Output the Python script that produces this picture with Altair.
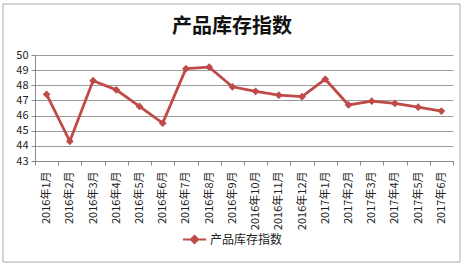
import altair as alt
import pandas as pd

months = ["2016年1月", "2016年2月", "2016年3月", "2016年4月", "2016年5月", "2016年6月",
          "2016年7月", "2016年8月", "2016年9月", "2016年10月", "2016年11月", "2016年12月",
          "2017年1月", "2017年2月", "2017年3月", "2017年4月", "2017年5月", "2017年6月"]
values = [47.4, 44.3, 48.3, 47.7, 46.6, 45.5, 49.1, 49.2, 47.9, 47.6, 47.35, 47.25,
          48.4, 46.7, 46.95, 46.8, 46.55, 46.3]
series_name = "产品库存指数"
y_ticks = [43, 44, 45, 46, 47, 48, 49, 50]

df = pd.DataFrame({"month": months, "value": values, "series": [series_name] * len(months)})

FONT = "Noto Sans CJK SC"
RED = "#BE4B48"

x_enc = alt.X("month:N", sort=months, bandPosition=0.5,
              scale=alt.Scale(type="band", paddingInner=0, paddingOuter=0),
              axis=alt.Axis(title=None, labelAngle=-90, labelFontSize=11, labelFont=FONT,
                            labelColor="#222", tickBand="extent", grid=False,
                            domainColor="#888", tickColor="#888", tickSize=4, labelPadding=6))
y_enc = alt.Y("value:Q",
              scale=alt.Scale(domain=[43, 50], nice=False, zero=False),
              axis=alt.Axis(title=None, values=y_ticks, labelFontSize=11, labelFont=FONT,
                            labelColor="#222", gridColor="#9a9a9a", domainColor="#888",
                            tickColor="#888", tickSize=4, labelPadding=3))
color_enc = alt.Color("series:N", scale=alt.Scale(range=[RED]),
                      legend=alt.Legend(title=None, orient="none", legendX=147, legendY=172,
                                        symbolType="M-1,0H1M0,-0.32L0.32,0L0,0.32L-0.32,0Z",
                                        symbolSize=529, symbolStrokeWidth=2,
                                        symbolFillColor=RED, symbolStrokeColor=RED,
                                        labelFont=FONT, labelFontSize=12, labelColor="#222",
                                        labelOffset=3))

line = alt.Chart(df).mark_line(strokeWidth=2.8, color=RED).encode(x=x_enc, y=y_enc, color=color_enc)
pts = alt.Chart(df).mark_point(shape="diamond", filled=True, size=60, opacity=1, color=RED).encode(
    x=x_enc, y=y_enc, color=color_enc)

frame = alt.Chart(pd.DataFrame({"a": [0]})).mark_rect(
    fill=None, stroke="#a8a8a8", strokeWidth=1, clip=False).encode(
    x=alt.value(-32), x2=alt.value(425), y=alt.value(-51), y2=alt.value(207))

chart = alt.layer(frame, line, pts).properties(
    width=418, height=106,
    padding={"left": 35, "top": 55, "right": 12, "bottom": 104},
    autosize=alt.AutoSizeParams(type="none"),
    title=alt.TitleParams(series_name, font=FONT, fontSize=20, fontWeight="bold",
                          color="#111", anchor="middle", frame="group", dx=-12, offset=-33),
    background="white",
).configure_view(stroke=None)

chart.save("out.html", embed_options={"renderer": "svg", "actions": False})
